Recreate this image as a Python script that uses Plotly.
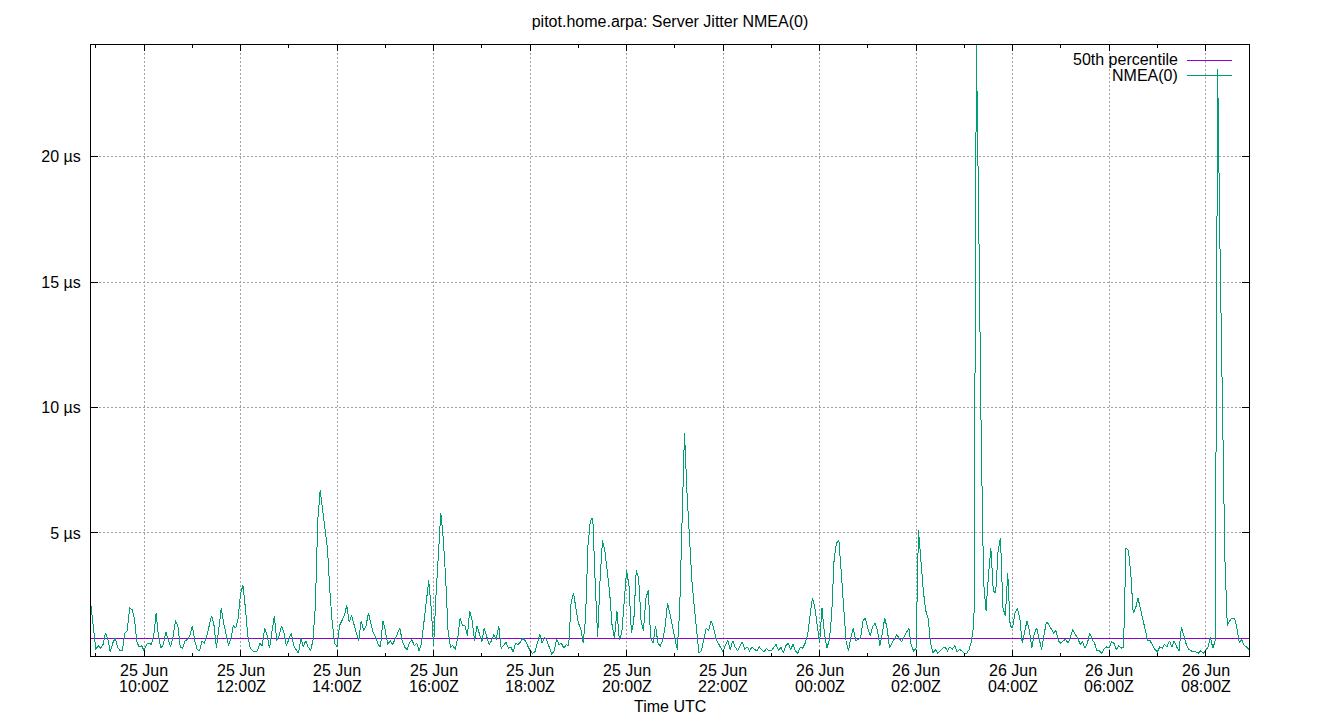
import pandas as pd
import plotly.graph_objects as go

# ---------------- data ----------------
start_time = "2025-06-25 08:54"
end_time = "2025-06-26 08:54"
step_minutes = 3

jitter_us = [
    2.1, 1.26, 0.35, 0.5, 0.4, 0.55, 1.0, 0.75, 0.25, 0.6,
    0.8, 0.45, 0.3, 0.3, 1.0, 1.1, 2.0, 1.95, 1.6, 0.65,
    0.45, 0.5, 0.3, 0.55, 0.6, 0.55, 0.9, 1.8, 0.85, 0.4,
    0.55, 1.05, 0.7, 0.45, 0.85, 1.5, 1.3, 0.45, 0.4, 0.7,
    0.75, 0.9, 1.3, 0.7, 0.35, 0.3, 0.7, 0.6, 0.9, 1.25,
    1.7, 1.3, 0.4, 1.2, 2.0, 1.4, 0.9, 0.5, 0.8, 1.3,
    1.2, 1.6, 2.6, 2.9, 2.0, 0.9, 0.4, 0.3, 0.25, 0.3,
    0.6, 0.5, 1.2, 0.9, 0.4, 1.0, 1.7, 0.7, 0.9, 1.3,
    1.0, 0.5, 0.75, 1.0, 0.5, 0.35, 0.2, 0.8, 0.45, 0.7,
    0.45, 0.3, 0.7, 2.1, 5.5, 6.7, 5.9, 5.0, 4.4, 2.7,
    1.4, 0.6, 0.45, 1.3, 1.5, 1.7, 2.1, 1.45, 1.7, 1.3,
    1.0, 0.7, 1.5, 1.1, 1.3, 1.8, 1.4, 1.0, 0.85, 0.55,
    0.45, 1.5, 1.1, 0.55, 0.7, 0.55, 0.75, 1.0, 1.2, 0.7,
    0.45, 0.35, 0.6, 0.75, 0.5, 0.6, 0.3, 0.6, 1.5, 2.2,
    3.1, 2.0, 0.5, 2.5, 4.4, 5.8, 4.8, 3.2, 1.1, 0.45,
    0.5, 0.35, 0.8, 1.6, 1.3, 1.3, 0.9, 1.9, 1.5, 0.7,
    1.3, 0.95, 0.65, 1.2, 0.85, 0.55, 0.7, 0.95, 0.75, 1.3,
    0.4, 0.5, 0.65, 0.4, 0.45, 0.25, 0.6, 0.55, 0.65, 0.8,
    0.7, 0.5, 0.3, 0.2, 0.25, 0.6, 0.95, 0.6, 0.85, 0.7,
    0.45, 0.15, 0.3, 0.75, 0.55, 0.6, 0.4, 0.55, 0.5, 2.2,
    2.6, 2.0, 1.4, 1.2, 0.6, 1.6, 4.5, 5.5, 5.6, 3.0,
    0.85, 3.1, 4.7, 4.3, 3.4, 2.6, 1.3, 0.8, 1.9, 0.75,
    1.0, 2.2, 3.5, 2.9, 1.0, 1.5, 3.5, 3.2, 1.5, 1.1,
    2.4, 2.7, 0.8, 0.6, 1.3, 0.6, 0.5, 0.7, 1.3, 2.2,
    1.8, 1.3, 0.8, 0.35, 1.9, 6.0, 9.0, 6.7, 4.8, 3.2,
    2.1, 1.0, 0.2, 0.3, 0.7, 1.2, 1.1, 1.5, 1.25, 0.8,
    0.6, 0.45, 0.25, 0.55, 0.7, 0.35, 0.7, 0.45, 0.3, 0.5,
    0.65, 0.35, 0.45, 0.3, 0.45, 0.35, 0.3, 0.45, 0.35, 0.25,
    0.4, 0.3, 0.3, 0.45, 0.55, 0.3, 0.45, 0.2, 0.5, 0.6,
    0.35, 0.55, 0.3, 0.2, 0.45, 0.4, 0.6, 0.9, 1.55, 2.4,
    2.05, 1.2, 0.6, 2.0, 1.0, 0.4, 0.7, 1.7, 3.9, 4.6,
    4.7, 3.4, 1.8, 0.65, 0.3, 0.85, 1.2, 0.7, 0.75, 0.8,
    1.5, 1.6, 1.2, 0.9, 1.25, 1.4, 1.1, 0.5, 1.0, 1.6,
    1.2, 0.4, 0.6, 0.8, 0.95, 0.8, 0.65, 0.85, 1.0, 1.2,
    0.5, 0.3, 0.4, 5.1, 3.9, 2.7, 1.9, 1.6, 0.6, 0.2,
    0.35, 0.2, 0.3, 0.4, 0.45, 0.3, 0.45, 0.35, 0.5, 0.25,
    0.35, 0.3, 0.2, 0.2, 0.35, 0.7, 1.4, 24.5, 17.3, 8.8,
    3.0, 1.9, 3.3, 4.4, 2.7, 2.6, 4.3, 4.8, 2.0, 1.7,
    3.4, 1.3, 1.2, 1.8, 2.0, 1.6, 0.6, 1.1, 1.5, 1.1,
    0.4, 1.0, 1.2, 0.8, 0.35, 0.9, 1.45, 1.35, 1.15, 1.0,
    1.1, 0.7, 0.6, 0.7, 0.75, 0.6, 0.85, 1.15, 0.95, 0.8,
    0.55, 0.65, 0.4, 0.6, 1.0, 0.75, 0.6, 0.3, 0.3, 0.2,
    0.4, 0.45, 0.4, 0.65, 0.6, 0.35, 0.5, 0.4, 0.45, 4.4,
    4.3, 3.4, 1.8, 2.0, 2.4, 2.0, 1.5, 1.2, 0.7, 0.7,
    0.5, 0.35, 0.25, 0.45, 0.4, 0.55, 0.45, 0.7, 0.45, 0.7,
    0.45, 0.3, 1.25, 0.85, 0.55, 0.35, 0.3, 0.25, 0.25, 0.2,
    0.3, 0.2, 0.3, 0.45, 0.85, 0.4, 0.7, 23.5, 16.2, 10.6,
    4.0, 1.3, 1.5, 1.6, 1.6, 1.2, 0.6, 0.75, 0.5, 0.45,
    0.35,
]

percentile_50 = 0.77

tick_times = [
    "2025-06-25 10:00", "2025-06-25 12:00", "2025-06-25 14:00",
    "2025-06-25 16:00", "2025-06-25 18:00", "2025-06-25 20:00",
    "2025-06-25 22:00", "2025-06-26 00:00", "2025-06-26 02:00",
    "2025-06-26 04:00", "2025-06-26 06:00", "2025-06-26 08:00",
]
tick_dates = ["25 Jun"] * 7 + ["26 Jun"] * 5
tick_clock = ["10:00Z", "12:00Z", "14:00Z", "16:00Z", "18:00Z", "20:00Z",
              "22:00Z", "00:00Z", "02:00Z", "04:00Z", "06:00Z", "08:00Z"]
y_tick_vals = [5, 10, 15, 20]
y_tick_labels = ["5 µs", "10 µs", "15 µs", "20 µs"]

series_names = ["50th percentile", "NMEA(0)"]
series_colors = ["#9400d3", "#009e73"]

# ---------------- figure ----------------
times = pd.date_range(start=start_time, periods=len(jitter_us),
                      freq=f"{step_minutes}min")

FONT = "Liberation Sans, Arial, sans-serif"
W, H = 1340, 720
ML, MR, MT, MB = 91, 91, 45, 64
PW, PH = W - ML - MR, H - MT - MB


def px_x(px):
    return (px - ML) / PW


def px_y(py):
    return (H - MB - py) / PH


fig = go.Figure()
fig.add_trace(go.Scatter(
    x=[start_time, end_time], y=[percentile_50, percentile_50],
    mode="lines", line=dict(color=series_colors[0], width=1),
    name=series_names[0], showlegend=False, hoverinfo="skip"))
fig.add_trace(go.Scatter(
    x=times, y=jitter_us, mode="lines",
    line=dict(color=series_colors[1], width=1),
    name=series_names[1], showlegend=False))

grid = dict(gridcolor="#a0a0a0", griddash="2px,2px", gridwidth=1)

fig.update_layout(
    width=W, height=H,
    margin=dict(l=ML, r=MR, t=MT, b=MB, pad=0, autoexpand=False),
    paper_bgcolor="white", plot_bgcolor="white",
    font=dict(family=FONT, size=16, color="black"),
    title=dict(text="pitot.home.arpa: Server Jitter NMEA(0)",
               x=0.5, xanchor="center", y=1 - 21 / H, yanchor="middle",
               yref="container", font=dict(family=FONT, size=16)),
    showlegend=False,
    xaxis=dict(
        type="date", range=[start_time, end_time],
        tickmode="array", tickvals=tick_times, showticklabels=False,
        ticks="inside", ticklen=6, tickcolor="black", tickwidth=1,
        showline=True, linecolor="black", linewidth=1, mirror="allticks",
        showgrid=True, zeroline=False,
        minor=dict(ticks="inside", ticklen=3, tickcolor="black",
                   tick0="2025-06-25 00:00", dtick=3600000, showgrid=False),
        **grid,
    ),
    yaxis=dict(
        range=[0.09, 24.46],
        tickmode="array", tickvals=y_tick_vals, ticktext=y_tick_labels,
        ticks="inside", ticklen=7, tickcolor="black", tickwidth=1,
        showline=True, linecolor="black", linewidth=1, mirror="allticks",
        showgrid=True, zeroline=False, ticklabelstandoff=6,
        tickfont=dict(family=FONT, size=16),
        **grid,
    ),
)

# two-line x tick labels (gnuplot spacing)
for t, d, c in zip(tick_times, tick_dates, tick_clock):
    fig.add_annotation(text=d, xref="x", yref="paper", x=t, y=px_y(670),
                       xanchor="center", yanchor="middle", showarrow=False,
                       font=dict(family=FONT, size=16))
    fig.add_annotation(text=c, xref="x", yref="paper", x=t, y=px_y(686),
                       xanchor="center", yanchor="middle", showarrow=False,
                       font=dict(family=FONT, size=16))

# x-axis title
fig.add_annotation(text="Time UTC", xref="paper", yref="paper",
                   x=0.5, y=px_y(706), xanchor="center", yanchor="middle",
                   showarrow=False, font=dict(family=FONT, size=16))

# key (gnuplot style, text left of sample)
fig.add_shape(type="rect", xref="paper", yref="paper",
              x0=px_x(1064), x1=px_x(1240), y0=px_y(83), y1=px_y(46),
              fillcolor="white", line=dict(width=0), layer="between")
key_rows = [60, 75]
for name, color, row in zip(series_names, series_colors, key_rows):
    fig.add_annotation(text=name, xref="paper", yref="paper",
                       x=px_x(1180), y=px_y(row), xanchor="right",
                       yanchor="middle", showarrow=False,
                       font=dict(family=FONT, size=16))
    fig.add_shape(type="line", xref="paper", yref="paper",
                  x0=px_x(1187), x1=px_x(1232), y0=px_y(row), y1=px_y(row),
                  line=dict(color=color, width=1), layer="above")

fig.write_html(
    "out.html",
    config={"displayModeBar": False},
    post_script=(
        "document.body.style.margin='0';"
        "document.body.style.overflow='hidden';"
        "document.querySelectorAll('.scatterlayer path.js-line, .shapelayer path')"
        ".forEach(function(p){p.style.shapeRendering='crispEdges';});"
    ),
)
